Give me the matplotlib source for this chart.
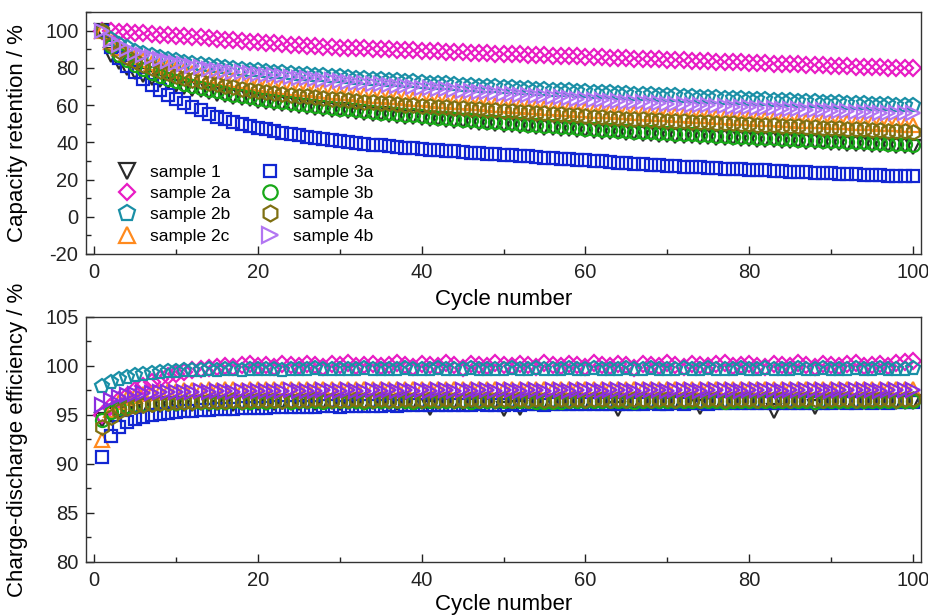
import matplotlib
matplotlib.use("Agg")
import matplotlib.pyplot as plt
from matplotlib.ticker import MultipleLocator

plt.rcParams['font.family'] = ['Liberation Sans', 'DejaVu Sans']
plt.rcParams['axes.unicode_minus'] = False

cycles = list(range(1, 101))
labels = ["sample 1", "sample 2a", "sample 2b", "sample 2c",
          "sample 3a", "sample 3b", "sample 4a", "sample 4b"]
markers = ["v", "D", "p", "^", "s", "o", "h", ">"]
colors_top = ["#2a2a2a", "#e81cc4", "#1a8fa6", "#ff8a1e",
              "#1226d2", "#18a818", "#7f7012", "#b276f2"]
colors_bot = ["#2a2a2a", "#e81cc4", "#1a8fa6", "#ff8a1e",
              "#1226d2", "#18a818", "#7f7012", "#8a2ee0"]
msizes = [10.3, 7.8, 10.8, 10.3, 8.3, 9.4, 10.4, 10.3]

# ---- capacity retention (%) ----
cap_s1 = [100, 87, 83, 80, 78, 76.3, 74.8, 73.4, 72.2, 71,
          69.9, 68.9, 68, 67.1, 66.2, 65.4, 64.6, 63.8, 63.1, 62.4,
          61.8, 61.2, 60.6, 60.0, 59.5, 59.0, 58.5, 58.0, 57.6, 57.1,
          56.7, 56.2, 55.8, 55.4, 55.0, 54.6, 54.2, 53.8, 53.4, 53.0,
          52.6, 52.3, 51.9, 51.5, 51.2, 50.8, 50.5, 50.1, 49.8, 49.5,
          49.2, 48.9, 48.5, 48.2, 47.9, 47.6, 47.3, 47.0, 46.7, 46.4,
          46.1, 45.8, 45.6, 45.3, 45.1, 44.8, 44.6, 44.3, 44.1, 43.9,
          43.6, 43.4, 43.2, 43.0, 42.7, 42.5, 42.3, 42.1, 41.9, 41.7,
          41.5, 41.3, 41.1, 40.9, 40.7, 40.5, 40.3, 40.1, 39.9, 39.7,
          39.5, 39.3, 39.1, 38.9, 38.7, 38.5, 38.3, 38.1, 37.9, 37.7]
cap_s2a = [100, 99.7, 99.4, 99.1, 98.8, 98.5, 98.2, 97.9, 97.6, 97.3,
           97.0, 96.7, 96.3, 96.0, 95.6, 95.2, 94.8, 94.5, 94.1, 93.8,
           93.4, 93.1, 92.8, 92.5, 92.2, 91.9, 91.6, 91.3, 91.1, 90.9,
           90.7, 90.5, 90.4, 90.2, 90.0, 89.9, 89.7, 89.5, 89.4, 89.2,
           89.0, 88.9, 88.7, 88.5, 88.4, 88.2, 88.0, 87.9, 87.7, 87.5,
           87.4, 87.2, 87.1, 86.9, 86.7, 86.6, 86.4, 86.3, 86.1, 86.0,
           85.8, 85.7, 85.5, 85.4, 85.2, 85.0, 84.9, 84.7, 84.6, 84.4,
           84.2, 84.1, 83.9, 83.8, 83.6, 83.4, 83.3, 83.1, 83.0, 82.8,
           82.6, 82.5, 82.3, 82.2, 82.0, 81.8, 81.7, 81.5, 81.4, 81.2,
           81.0, 80.9, 80.7, 80.6, 80.4, 80.3, 80.1, 80.0, 79.8, 79.7]
cap_s2b = [100, 95.5, 93, 91, 89.3, 88, 86.9, 85.9, 85, 84.2,
           83.4, 82.7, 82, 81.4, 80.8, 80.3, 79.8, 79.4, 79, 78.6,
           78.2, 77.9, 77.5, 77.2, 76.9, 76.6, 76.3, 76.0, 75.7, 75.4,
           75.1, 74.8, 74.5, 74.2, 73.9, 73.6, 73.3, 73.0, 72.7, 72.4,
           72.1, 71.8, 71.6, 71.3, 71.0, 70.8, 70.5, 70.2, 70.0, 69.7,
           69.5, 69.2, 69.0, 68.8, 68.5, 68.3, 68.1, 67.9, 67.6, 67.4,
           67.2, 67.0, 66.8, 66.6, 66.4, 66.2, 66.0, 65.8, 65.6, 65.4,
           65.2, 65.0, 64.8, 64.6, 64.4, 64.2, 64.0, 63.8, 63.6, 63.4,
           63.2, 63.0, 62.9, 62.7, 62.5, 62.3, 62.1, 62.0, 61.8, 61.6,
           61.4, 61.3, 61.1, 60.9, 60.7, 60.6, 60.4, 60.3, 60.1, 60.0]
cap_s2c = [100, 94, 90.5, 88, 86, 84.3, 82.8, 81.5, 80.3, 79.2,
           78.2, 77.3, 76.4, 75.6, 74.8, 74.1, 73.4, 72.7, 72.1, 71.5,
           70.9, 70.4, 69.9, 69.4, 68.9, 68.4, 68.0, 67.5, 67.1, 66.7,
           66.3, 65.9, 65.5, 65.1, 64.8, 64.4, 64.1, 63.7, 63.4, 63.0,
           62.7, 62.4, 62.1, 61.8, 61.5, 61.2, 60.9, 60.6, 60.3, 60.0,
           59.7, 59.4, 59.1, 58.9, 58.6, 58.3, 58.1, 57.8, 57.5, 57.3,
           57.0, 56.8, 56.6, 56.3, 56.1, 55.9, 55.6, 55.4, 55.2, 55.0,
           54.8, 54.5, 54.3, 54.1, 53.9, 53.7, 53.5, 53.3, 53.1, 52.9,
           52.7, 52.5, 52.3, 52.1, 51.9, 51.7, 51.6, 51.4, 51.2, 51.0,
           50.8, 50.7, 50.5, 50.3, 50.1, 50.0, 49.8, 49.6, 49.5, 49.3]
cap_s3a = [100, 91, 85.5, 81, 77.5, 74.2, 71, 68.2, 65.6, 63.2,
           61, 59, 57.1, 55.4, 53.8, 52.4, 51.1, 49.9, 48.8, 47.8,
           46.9, 46, 45.2, 44.4, 43.7, 43, 42.4, 41.8, 41.2, 40.7,
           40.2, 39.7, 39.2, 38.8, 38.4, 38, 37.6, 37.2, 36.8, 36.5,
           36.1, 35.8, 35.5, 35.1, 34.8, 34.5, 34.2, 33.9, 33.6, 33.3,
           33.0, 32.7, 32.4, 32.1, 31.8, 31.5, 31.2, 30.9, 30.6, 30.3,
           30.0, 29.7, 29.4, 29.1, 28.8, 28.5, 28.3, 28.0, 27.8, 27.5,
           27.3, 27.0, 26.8, 26.6, 26.3, 26.1, 25.9, 25.7, 25.5, 25.3,
           25.1, 24.9, 24.7, 24.5, 24.3, 24.1, 23.9, 23.7, 23.5, 23.3,
           23.1, 22.9, 22.8, 22.6, 22.4, 22.3, 22.1, 22.0, 21.8, 21.7]
cap_s3b = [100, 91.5, 87, 84, 81.5, 79.3, 77.4, 75.7, 74.2, 72.8,
           71.5, 70.3, 69.2, 68.2, 67.3, 66.4, 65.6, 64.8, 64.1, 63.4,
           62.8, 62.2, 61.6, 61.0, 60.5, 60.0, 59.5, 59.0, 58.6, 58.1,
           57.7, 57.2, 56.8, 56.4, 56.0, 55.6, 55.2, 54.8, 54.4, 54.0,
           53.6, 53.3, 52.9, 52.5, 52.2, 51.8, 51.5, 51.1, 50.8, 50.5,
           50.2, 49.9, 49.5, 49.2, 48.9, 48.6, 48.3, 48.0, 47.7, 47.4,
           47.1, 46.8, 46.6, 46.3, 46.1, 45.8, 45.6, 45.3, 45.1, 44.9,
           44.6, 44.4, 44.2, 44.0, 43.7, 43.5, 43.3, 43.1, 42.9, 42.7,
           42.5, 42.3, 42.1, 41.9, 41.7, 41.5, 41.3, 41.1, 40.9, 40.7,
           40.5, 40.3, 40.1, 39.9, 39.7, 39.5, 39.3, 39.1, 38.9, 38.7]
cap_s4a = [100, 93, 89, 86, 83.5, 81.5, 79.8, 78.3, 77, 75.8,
           74.7, 73.7, 72.8, 71.9, 71.1, 70.3, 69.6, 68.9, 68.3, 67.7,
           67.1, 66.6, 66.1, 65.6, 65.1, 64.7, 64.2, 63.8, 63.4, 63.0,
           62.6, 62.3, 61.9, 61.6, 61.2, 60.9, 60.6, 60.3, 60.0, 59.7,
           59.4, 59.1, 58.8, 58.5, 58.3, 58.0, 57.7, 57.5, 57.2, 57.0,
           56.7, 56.4, 56.1, 55.9, 55.6, 55.3, 55.0, 54.7, 54.4, 54.1,
           53.8, 53.5, 53.1, 52.9, 52.7, 52.5, 52.3, 52.1, 51.9, 51.7,
           51.5, 51.3, 51.1, 50.9, 50.7, 50.5, 50.3, 50.1, 49.9, 49.7,
           49.5, 49.3, 49.1, 48.9, 48.7, 48.5, 48.3, 48.1, 47.9, 47.7,
           47.5, 47.3, 47.1, 46.9, 46.7, 46.5, 46.3, 46.1, 45.9, 45.7]
cap_s4b = [100, 95, 92.5, 90, 88.2, 86.8, 85.6, 84.5, 83.5, 82.6,
           81.8, 81, 80.3, 79.6, 79, 78.5, 78, 77.6, 77.2, 76.8,
           76.4, 76, 75.6, 75.2, 74.8, 74.4, 74, 73.6, 73.2, 72.8,
           72.5, 72.1, 71.8, 71.4, 71.1, 70.7, 70.4, 70, 69.7, 69.3,
           69, 68.7, 68.4, 68, 67.7, 67.4, 67.1, 66.8, 66.5, 66.2,
           65.9, 65.6, 65.3, 65, 64.7, 64.4, 64.1, 63.8, 63.5, 63.2,
           62.9, 62.6, 62.4, 62.2, 61.9, 61.7, 61.5, 61.3, 61.0, 60.8,
           60.6, 60.4, 60.2, 60.0, 59.8, 59.6, 59.4, 59.2, 59.0, 58.8,
           58.6, 58.4, 58.2, 58.0, 57.8, 57.7, 57.5, 57.3, 57.1, 57.0,
           56.8, 56.6, 56.5, 56.3, 56.2, 56.0, 55.9, 55.8, 55.7, 55.6]

# ---- charge-discharge efficiency (%) ----
eff_s1 = [94.5, 95.0, 95.4, 95.6, 95.8, 95.9, 96.0, 96.0, 96.1, 96.1,
          96.1, 96.1, 96.2, 96.1, 96.2, 96.2, 96.1, 96.2, 96.2, 96.2,
          96.2, 96.2, 96.3, 96.2, 96.2, 96.3, 96.2, 96.3, 96.3, 96.2,
          96.3, 96.3, 96.2, 96.3, 96.3, 96.3, 96.2, 96.3, 96.3, 96.3,
          95.7, 96.3, 96.3, 96.3, 96.2, 96.3, 96.3, 96.3, 96.3, 95.6,
          96.3, 95.7, 96.3, 96.3, 96.3, 96.3, 96.2, 96.3, 96.3, 96.3,
          96.3, 96.3, 96.3, 95.6, 96.3, 96.3, 96.3, 96.3, 96.2, 96.3,
          96.3, 96.3, 96.3, 95.8, 96.3, 96.3, 96.3, 96.3, 96.3, 96.3,
          96.3, 96.3, 95.4, 96.3, 96.3, 96.3, 96.3, 95.8, 96.3, 96.3,
          96.3, 96.3, 96.3, 96.3, 96.3, 96.3, 96.3, 96.3, 96.3, 96.3]
eff_s2a = [95.0, 95.9, 96.5, 96.9, 97.5, 98.0, 98.4, 98.7, 99.0, 99.2,
           99.4, 99.6, 99.7, 99.8, 99.9, 100.0, 99.9, 100.1, 100.2, 100.0,
           100.1, 99.9, 100.2, 100.1, 100.0, 100.2, 100.1, 99.9, 100.2, 100.1,
           100.3, 100.0, 100.1, 100.2, 100.0, 100.1, 100.3, 100.1, 99.9, 100.2,
           100.1, 100.0, 100.3, 100.1, 99.8, 100.2, 100.1, 100.0, 100.3, 100.1,
           100.0, 100.2, 100.1, 99.9, 100.3, 100.1, 100.0, 100.2, 100.1, 99.9,
           100.3, 100.1, 100.0, 100.2, 100.1, 99.8, 100.2, 100.1, 100.0, 100.3,
           100.1, 99.9, 100.2, 100.1, 100.0, 100.2, 100.3, 100.0, 100.1, 100.2,
           100.0, 99.9, 100.2, 100.1, 100.0, 100.3, 100.1, 99.9, 100.2, 100.1,
           100.0, 100.2, 100.3, 100.0, 100.1, 100.2, 100.0, 100.3, 100.4, 100.5]
eff_s2b = [98.0, 98.4, 98.7, 98.9, 99.1, 99.2, 99.3, 99.4, 99.5, 99.5,
           99.6, 99.6, 99.6, 99.7, 99.6, 99.7, 99.7, 99.6, 99.7, 99.7,
           99.7, 99.7, 99.6, 99.7, 99.7, 99.7, 99.8, 99.7, 99.7, 99.7,
           99.7, 99.7, 99.8, 99.7, 99.7, 99.7, 99.7, 99.8, 99.7, 99.7,
           99.7, 99.8, 99.7, 99.7, 99.7, 99.8, 99.7, 99.7, 99.7, 99.7,
           99.8, 99.7, 99.7, 99.8, 99.7, 99.7, 99.7, 99.8, 99.7, 99.7,
           99.8, 99.7, 99.7, 99.7, 99.8, 99.7, 99.7, 99.8, 99.7, 99.7,
           99.7, 99.8, 99.7, 99.7, 99.8, 99.7, 99.7, 99.7, 99.8, 99.7,
           99.7, 99.8, 99.7, 99.7, 99.7, 99.8, 99.7, 99.7, 99.8, 99.7,
           99.7, 99.7, 99.8, 99.7, 99.7, 99.8, 99.7, 99.7, 99.7, 99.8]
eff_s2c = [92.4, 95.5, 96.3, 96.7, 96.9, 97.1, 97.2, 97.3, 97.4, 97.4,
           97.5, 97.5, 97.5, 97.6, 97.5, 97.6, 97.6, 97.5, 97.6, 97.6,
           97.6, 97.7, 97.6, 97.6, 97.7, 97.6, 97.6, 97.7, 97.6, 97.7,
           97.7, 97.6, 97.7, 97.7, 97.6, 97.7, 97.7, 97.7, 97.6, 97.7,
           97.7, 97.7, 97.7, 97.6, 97.7, 97.7, 97.7, 97.7, 97.6, 97.7,
           97.7, 97.7, 97.7, 97.7, 97.6, 97.7, 97.7, 97.7, 97.7, 97.7,
           97.6, 97.7, 97.7, 97.7, 97.7, 97.7, 97.6, 97.7, 97.7, 97.7,
           97.7, 97.7, 97.6, 97.7, 97.7, 97.7, 97.7, 97.7, 97.6, 97.7,
           97.7, 97.7, 97.7, 97.7, 97.6, 97.7, 97.7, 97.7, 97.7, 97.6,
           97.7, 97.7, 97.7, 97.7, 97.6, 97.7, 97.7, 97.7, 97.7, 97.6]
eff_s3a = [90.7, 92.9, 93.8, 94.3, 94.6, 94.8, 95.0, 95.1, 95.2, 95.3,
           95.4, 95.4, 95.5, 95.5, 95.6, 95.6, 95.6, 95.7, 95.7, 95.7,
           95.7, 95.8, 95.8, 95.8, 95.8, 95.8, 95.8, 95.9, 95.9, 95.8,
           95.9, 95.9, 95.9, 95.9, 95.9, 96.0, 95.9, 96.0, 96.0, 96.0,
           96.0, 96.0, 96.0, 96.0, 96.0, 96.0, 96.1, 96.0, 96.0, 96.0,
           96.1, 96.0, 96.1, 96.1, 96.0, 96.1, 96.1, 96.1, 96.1, 96.1,
           96.1, 96.1, 96.1, 96.1, 96.1, 96.1, 96.1, 96.2, 96.1, 96.1,
           96.2, 96.1, 96.2, 96.2, 96.1, 96.2, 96.2, 96.2, 96.2, 96.2,
           96.2, 96.2, 96.2, 96.2, 96.2, 96.2, 96.2, 96.2, 96.2, 96.2,
           96.3, 96.2, 96.2, 96.3, 96.2, 96.3, 96.2, 96.3, 96.3, 96.3]
eff_s3b = [94.5, 95.3, 95.7, 95.9, 96.0, 96.1, 96.1, 96.2, 96.2, 96.2,
           96.3, 96.3, 96.3, 96.3, 96.3, 96.3, 96.4, 96.3, 96.3, 96.4,
           96.3, 96.4, 96.4, 96.3, 96.4, 96.4, 96.4, 96.3, 96.4, 96.4,
           96.4, 96.4, 96.3, 96.4, 96.4, 96.4, 96.4, 96.4, 96.3, 96.4,
           96.4, 96.4, 96.4, 96.4, 96.4, 96.3, 96.4, 96.4, 96.4, 96.4,
           96.4, 96.4, 96.4, 96.3, 96.3, 96.3, 96.3, 96.4, 96.4, 96.4,
           96.4, 96.4, 96.4, 96.4, 96.4, 96.3, 96.4, 96.4, 96.4, 96.4,
           96.4, 96.4, 96.4, 96.4, 96.4, 96.4, 96.3, 96.4, 96.4, 96.4,
           96.4, 96.4, 96.4, 96.4, 96.4, 96.4, 96.4, 96.3, 96.4, 96.4,
           96.4, 96.4, 96.4, 96.4, 96.4, 96.4, 96.4, 96.4, 96.4, 96.4]
eff_s4a = [93.8, 94.8, 95.4, 95.7, 95.9, 96.0, 96.1, 96.2, 96.2, 96.3,
           96.3, 96.3, 96.4, 96.4, 96.4, 96.4, 96.5, 96.4, 96.5, 96.5,
           96.5, 96.5, 96.4, 96.5, 96.5, 96.5, 96.6, 96.5, 96.5, 96.5,
           96.5, 96.6, 96.5, 96.5, 96.6, 96.5, 96.5, 96.6, 96.5, 96.5,
           96.6, 96.5, 96.6, 96.5, 96.5, 96.6, 96.5, 96.6, 96.5, 96.6,
           96.5, 96.6, 96.5, 96.6, 96.5, 96.5, 96.6, 96.5, 96.6, 96.5,
           96.6, 96.6, 96.5, 96.6, 96.5, 96.6, 96.6, 96.5, 96.6, 96.6,
           96.5, 96.6, 96.6, 96.5, 96.6, 96.6, 96.5, 96.6, 96.6, 96.6,
           96.5, 96.6, 96.6, 96.6, 96.5, 96.6, 96.6, 96.6, 96.5, 96.6,
           96.6, 96.6, 96.5, 96.6, 96.6, 96.6, 96.6, 96.5, 96.6, 96.6]
eff_s4b = [96.0, 96.5, 96.8, 97.0, 97.1, 97.2, 97.2, 97.3, 97.3, 97.3,
           97.3, 97.3, 97.4, 97.3, 97.4, 97.4, 97.3, 97.4, 97.4, 97.4,
           97.4, 97.4, 97.4, 97.5, 97.4, 97.4, 97.4, 97.5, 97.4, 97.4,
           97.5, 97.4, 97.4, 97.5, 97.4, 97.5, 97.4, 97.5, 97.4, 97.5,
           97.4, 97.5, 97.5, 97.4, 97.5, 97.4, 97.5, 97.5, 97.4, 97.5,
           97.5, 97.4, 97.5, 97.5, 97.4, 97.5, 97.5, 97.4, 97.5, 97.5,
           97.5, 97.4, 97.5, 97.5, 97.5, 97.4, 97.5, 97.5, 97.5, 97.4,
           97.5, 97.5, 97.5, 97.4, 97.5, 97.5, 97.5, 97.5, 97.4, 97.5,
           97.5, 97.5, 97.5, 97.4, 97.5, 97.5, 97.5, 97.5, 97.5, 97.4,
           97.5, 97.5, 97.5, 97.5, 97.5, 97.4, 97.5, 97.5, 97.5, 97.5]

cap_all = [cap_s1, cap_s2a, cap_s2b, cap_s2c, cap_s3a, cap_s3b, cap_s4a, cap_s4b]
eff_all = [eff_s1, eff_s2a, eff_s2b, eff_s2c, eff_s3a, eff_s3b, eff_s4a, eff_s4b]

fig = plt.figure(figsize=(9.29, 6.15), dpi=100)
ax1 = fig.add_axes([0.0926, 0.587, 0.8988, 0.3935])
ax2 = fig.add_axes([0.0926, 0.0862, 0.8988, 0.3984])

for i in range(8):
    ax1.plot(cycles, cap_all[i], linestyle="none", marker=markers[i],
             markersize=msizes[i], markerfacecolor="none",
             markeredgecolor=colors_top[i], markeredgewidth=1.6,
             label=labels[i])
    ax2.plot(cycles, eff_all[i], linestyle="none", marker=markers[i],
             markersize=msizes[i], markerfacecolor="none",
             markeredgecolor=colors_bot[i], markeredgewidth=1.6)

for ax in (ax1, ax2):
    ax.set_xlim(-1, 101)
    ax.xaxis.set_major_locator(MultipleLocator(20))
    ax.xaxis.set_minor_locator(MultipleLocator(10))
    ax.tick_params(which="both", direction="in", top=False, right=False,
                   labelsize=14.5, colors="#222222")
    ax.tick_params(axis="x", which="both", pad=6.5)
    ax.tick_params(axis="y", which="both", pad=5.5)
    ax.tick_params(which="major", length=6, width=1)
    ax.tick_params(which="minor", length=3.5, width=1)
    for sp in ax.spines.values():
        sp.set_color("#333333")
        sp.set_linewidth(1.0)
    ax.set_xlabel("Cycle number", fontsize=16)

ax1.set_ylim(-20, 110)
ax1.yaxis.set_major_locator(MultipleLocator(20))
ax1.yaxis.set_minor_locator(MultipleLocator(10))
ax1.set_ylabel("Capacity retention / %", fontsize=16)

ax2.set_ylim(80, 105)
ax2.yaxis.set_major_locator(MultipleLocator(5))
ax2.yaxis.set_minor_locator(MultipleLocator(2.5))
ax2.set_ylabel("Charge-discharge efficiency / %", fontsize=16)

ax1.yaxis.set_label_coords(-0.069, 0.5)
ax2.yaxis.set_label_coords(-0.069, 0.5)
ax1.xaxis.set_label_coords(0.5, -0.145)
ax2.xaxis.set_label_coords(0.5, -0.131)

ax1.legend(loc="upper left", bbox_to_anchor=(0.039, 0.37), ncol=2,
           frameon=False, fontsize=12.5, handlelength=1.0,
           handletextpad=0.8, columnspacing=1.8, labelspacing=0.36,
           borderaxespad=0, borderpad=0, markerscale=1.1)

fig.savefig("out.png", dpi=100)
